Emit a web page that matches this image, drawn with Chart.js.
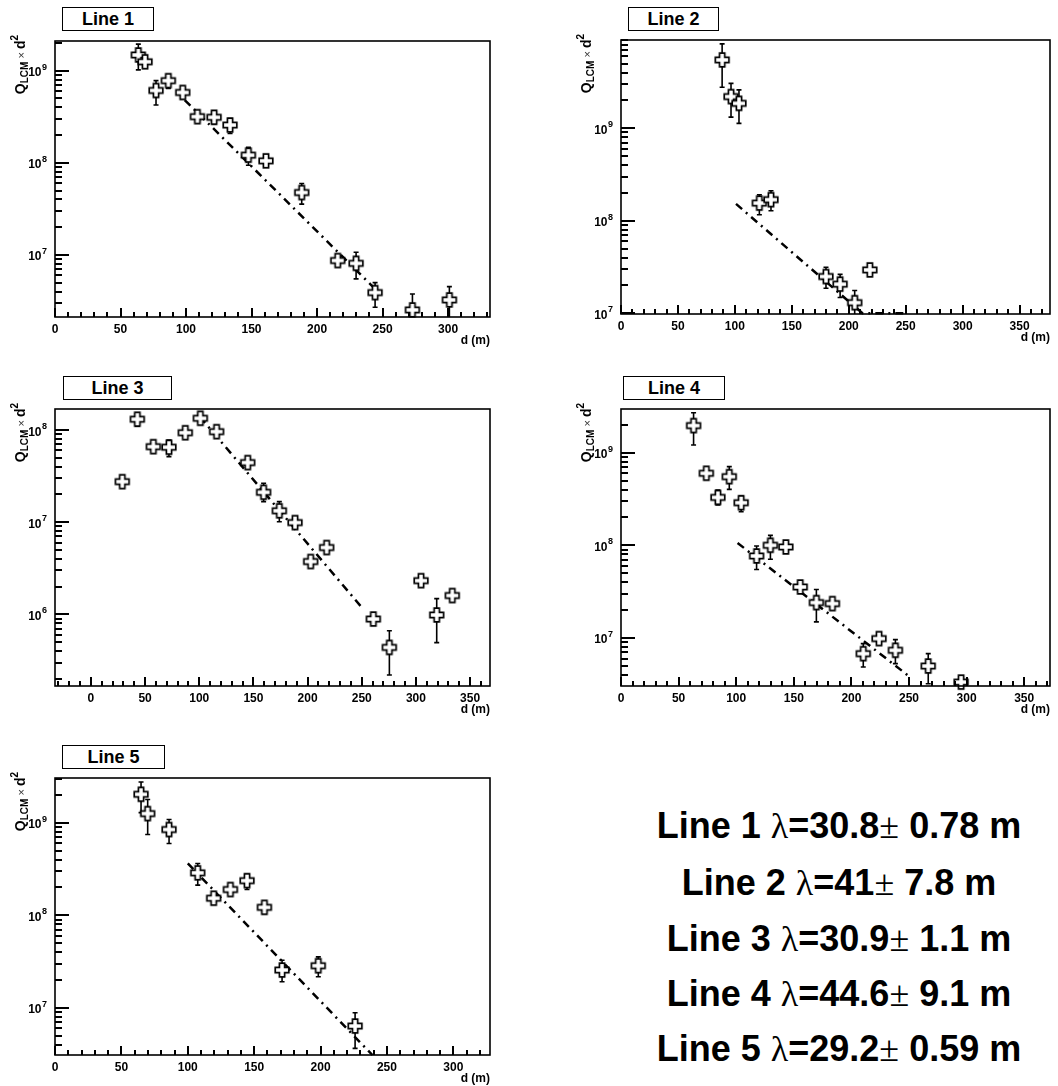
<!DOCTYPE html>
<html>
<head>
<meta charset="utf-8">
<script src="https://cdn.jsdelivr.net/npm/chart.js@4.4.1/dist/chart.umd.min.js"></script>
<style>
  body { margin: 0; background: #fff; width: 1058px; height: 1086px; position: relative; overflow: hidden;
         font-family: "Liberation Sans", Arial, Helvetica, sans-serif; }
  canvas { position: absolute; }
  .tag { position: absolute; border: 1.5px solid #000; background: #fff; box-sizing: border-box;
         font-weight: bold; font-size: 18px; line-height: 18px; padding-top: 2px; text-align: center; }
  .res { position: absolute; left: 600px; width: 478px; text-align: center; white-space: nowrap;
         font-weight: bold; font-size: 36px; line-height: 36px; }
  .res .sym { font-weight: normal; font-family: "Liberation Serif", "DejaVu Serif", serif; }
</style>
</head>
<body>
<canvas id="c1"></canvas>
<canvas id="c2"></canvas>
<canvas id="c3"></canvas>
<canvas id="c4"></canvas>
<canvas id="c5"></canvas>

<div class="tag" style="left:62px;top:7px;width:92px;height:24px">Line 1</div>
<div class="tag" style="left:628px;top:7px;width:91px;height:24px">Line 2</div>
<div class="tag" style="left:63px;top:376px;width:109px;height:24px">Line 3</div>
<div class="tag" style="left:623px;top:376px;width:102px;height:24px">Line 4</div>
<div class="tag" style="left:62px;top:745px;width:103px;height:24px">Line 5</div>

<div class="res" style="top:808px">Line 1 <span class="sym">λ</span>=30.8<span class="sym">±</span> 0.78 m</div>
<div class="res" style="top:865px">Line 2 <span class="sym">λ</span>=41<span class="sym">±</span> 7.8 m</div>
<div class="res" style="top:921px">Line 3 <span class="sym">λ</span>=30.9<span class="sym">±</span> 1.1 m</div>
<div class="res" style="top:976px">Line 4 <span class="sym">λ</span>=44.6<span class="sym">±</span> 9.1 m</div>
<div class="res" style="top:1031px">Line 5 <span class="sym">λ</span>=29.2<span class="sym">±</span> 0.59 m</div>

<script>
// ---- data: distance d (m), Q_LCM x d^2, error bar low / high ----
var d1  = [63.6, 68.7, 77.1, 86.5, 97.5, 108.7, 121.4, 133.6, 147.6, 161.0, 188.3, 215.8, 229.8, 244.3, 272.8, 301.0];
var q1  = [1.48e9, 1.25e9, 6.1e8, 7.8e8, 5.8e8, 3.17e8, 3.12e8, 2.57e8, 1.21e8, 1.05e8, 4.76e7, 8.7e6, 8.1e6, 3.9e6, 2.53e6, 3.25e6];
var lo1 = [1.02e9, 1.1e9, 4.24e8, 6.4e8, 5.0e8, 2.8e8, 2.64e8, 2.08e8, 9.4e7, 9.2e7, 3.56e7, 7.7e6, 5.5e6, 2.7e6, 1.5e6, 1.9e6];
var hi1 = [1.94e9, 1.4e9, 7.8e8, 8.97e8, 6.6e8, 3.55e8, 3.68e8, 3.02e8, 1.47e8, 1.18e8, 5.97e7, 1.0e7, 1.07e7, 5.0e6, 3.77e6, 4.53e6];
var fitD1 = [99, 250];
var fitQ1 = [4.8e8, 3.55e6];

var d2  = [88.8, 96.6, 103.6, 121.5, 131.7, 180.0, 192.4, 205.2, 218.5];
var q2  = [5.48e9, 2.2e9, 1.86e9, 1.55e8, 1.69e8, 2.49e7, 2.06e7, 1.3e7, 2.94e7];
var lo2 = [2.77e9, 1.32e9, 1.13e9, 1.16e8, 1.28e8, 1.86e7, 1.48e7, 8.0e6, 2.6e7];
var hi2 = [8.17e9, 3.06e9, 2.6e9, 1.91e8, 2.11e8, 3.14e7, 2.63e7, 1.76e7, 3.3e7];
var fitD2 = [101, 212, 250];
var fitQ2 = [1.52e8, 1.0e7, 1.0e7];

var d3  = [28.9, 42.8, 57.6, 72.0, 87.1, 101.0, 116.0, 144.7, 159.4, 173.9, 188.4, 202.8, 217.6, 260.7, 275.5, 304.7, 319.2, 333.6];
var q3  = [2.75e7, 1.31e8, 6.6e7, 6.5e7, 9.35e7, 1.34e8, 9.6e7, 4.43e7, 2.11e7, 1.33e7, 9.9e6, 3.74e6, 5.31e6, 8.9e5, 4.38e5, 2.32e6, 9.84e5, 1.6e6];
var lo3 = [2.5e7, 1.1e8, 6.0e7, 5.14e7, 8.6e7, 1.2e8, 8.6e7, 3.9e7, 1.67e7, 1.01e7, 9.0e6, 3.3e6, 4.9e6, 8.3e5, 2.2e5, 2.15e6, 4.93e5, 1.5e6];
var hi3 = [3.0e7, 1.5e8, 7.2e7, 7.78e7, 1.01e8, 1.48e8, 1.06e8, 5.0e7, 2.64e7, 1.67e7, 1.09e7, 4.2e6, 5.8e6, 9.6e5, 6.65e5, 2.5e6, 1.48e6, 1.72e6];
var fitD3 = [100.6, 250];
var fitQ3 = [1.39e8, 1.19e6];

var d4  = [63.0, 74.1, 84.1, 94.0, 104.3, 117.7, 129.7, 143.1, 155.6, 169.6, 183.5, 210.3, 224.0, 238.2, 266.7, 295.2];
var q4  = [1.96e9, 5.99e8, 3.29e8, 5.51e8, 2.88e8, 7.67e7, 1.0e8, 9.6e7, 3.55e7, 2.41e7, 2.35e7, 6.77e6, 9.84e6, 7.36e6, 4.98e6, 3.34e6];
var lo4 = [1.21e9, 5.2e8, 2.72e8, 4.02e8, 2.3e8, 5.49e7, 7.06e7, 8.6e7, 3.2e7, 1.49e7, 2.15e7, 4.86e6, 9.0e6, 5.28e6, 3.2e6, 3.0e6];
var hi4 = [2.7e9, 6.8e8, 3.94e8, 7.06e8, 3.4e8, 9.84e7, 1.28e8, 1.06e8, 3.9e7, 3.33e7, 2.6e7, 8.69e6, 1.08e7, 9.6e6, 6.78e6, 3.8e6];
var fitD4 = [101.2, 249];
var fitQ4 = [1.06e8, 3.95e6];

var d5  = [64.8, 69.8, 85.9, 107.5, 119.5, 132.1, 144.6, 157.7, 171.0, 198.3, 226.0];
var q5  = [2.04e9, 1.26e9, 8.47e8, 2.88e8, 1.53e8, 1.9e8, 2.37e8, 1.22e8, 2.56e7, 2.85e7, 6.34e6];
var lo5 = [1.29e9, 7.48e8, 5.98e8, 2.12e8, 1.38e8, 1.7e8, 1.9e8, 1.05e8, 1.91e7, 2.16e7, 3.63e6];
var hi5 = [2.77e9, 1.79e9, 1.09e9, 3.63e8, 1.7e8, 2.1e8, 2.78e8, 1.35e8, 3.27e7, 3.55e7, 8.84e6];
var fitD5 = [100, 239];
var fitQ5 = [3.64e8, 3.08e6];

// axis ranges and tick labels
var xRange1 = [0, 332],       yRange1 = [2.12e6, 2.1e9];
var xRange2 = [0, 376.7],     yRange2 = [9.8e6, 9.0e9];
var xRange3 = [-33.2, 368.4], yRange3 = [1.67e5, 1.69e8];
var xRange4 = [0, 372.4],     yRange4 = [3.03e6, 2.96e9];
var xRange5 = [0, 327.6],     yRange5 = [3.08e6, 3.06e9];
var xTicks300 = [0, 50, 100, 150, 200, 250, 300];
var xTicks350 = [0, 50, 100, 150, 200, 250, 300, 350];
var yTicks1 = [1e7, 1e8, 1e9];
var yTicks3 = [1e6, 1e7, 1e8];

// ---- page layout: canvas box and plot frame (px) ----
var boxes = [
  { id: 'c1', left: 0,   width: 500, frame: { l: 55,  t: 41,  r: 490,  b: 317 } },
  { id: 'c2', left: 560, width: 498, frame: { l: 621, t: 40,  r: 1055, b: 314 } },
  { id: 'c3', left: 0,   width: 500, frame: { l: 55,  t: 409, r: 490,  b: 686 } },
  { id: 'c4', left: 560, width: 498, frame: { l: 621, t: 409, r: 1056, b: 686 } },
  { id: 'c5', left: 0,   width: 500, frame: { l: 55,  t: 778, r: 490,  b: 1055 } }
];

var panels = [
  { d: d1, q: q1, lo: lo1, hi: hi1, fd: fitD1, fq: fitQ1, xr: xRange1, yr: yRange1, xt: xTicks300, yt: yTicks1 },
  { d: d2, q: q2, lo: lo2, hi: hi2, fd: fitD2, fq: fitQ2, xr: xRange2, yr: yRange2, xt: xTicks350, yt: yTicks1 },
  { d: d3, q: q3, lo: lo3, hi: hi3, fd: fitD3, fq: fitQ3, xr: xRange3, yr: yRange3, xt: xTicks350, yt: yTicks3 },
  { d: d4, q: q4, lo: lo4, hi: hi4, fd: fitD4, fq: fitQ4, xr: xRange4, yr: yRange4, xt: xTicks350, yt: yTicks1 },
  { d: d5, q: q5, lo: lo5, hi: hi5, fd: fitD5, fq: fitQ5, xr: xRange5, yr: yRange5, xt: xTicks300, yt: yTicks1 }
];

var FONT = '"Liberation Sans", Arial, Helvetica, sans-serif';

// open cross marker (ROOT style 28)
function crossMarker() {
  var c = document.createElement('canvas');
  c.width = 18; c.height = 18;
  var g = c.getContext('2d');
  var m = 9, s = 6.8, a = 2.6;
  g.beginPath();
  g.moveTo(m - a, m - s); g.lineTo(m + a, m - s); g.lineTo(m + a, m - a); g.lineTo(m + s, m - a);
  g.lineTo(m + s, m + a); g.lineTo(m + a, m + a); g.lineTo(m + a, m + s); g.lineTo(m - a, m + s);
  g.lineTo(m - a, m + a); g.lineTo(m - s, m + a); g.lineTo(m - s, m - a); g.lineTo(m - a, m - a);
  g.closePath();
  g.fillStyle = '#fff'; g.fill();
  g.lineWidth = 1.7; g.strokeStyle = '#000'; g.stroke();
  return c;
}
var marker = crossMarker();

// error bars, frame, inward ticks, y tick labels and axis titles for one panel
function rootStyle(p) {
  return {
    id: 'rootStyle',
    beforeDatasetsDraw: function (chart) {
      var ctx = chart.ctx, ca = chart.chartArea, xs = chart.scales.x, ys = chart.scales.y;
      ctx.save();
      ctx.beginPath(); ctx.rect(ca.left, ca.top, ca.right - ca.left, ca.bottom - ca.top); ctx.clip();
      ctx.strokeStyle = '#000'; ctx.lineWidth = 1.6;
      p.d.forEach(function (d, i) {
        var x = xs.getPixelForValue(d);
        var y1 = ys.getPixelForValue(p.lo[i]), y2 = ys.getPixelForValue(p.hi[i]);
        ctx.beginPath();
        ctx.moveTo(x, y1); ctx.lineTo(x, y2);
        ctx.moveTo(x - 2.5, y1); ctx.lineTo(x + 2.5, y1);
        ctx.moveTo(x - 2.5, y2); ctx.lineTo(x + 2.5, y2);
        ctx.stroke();
      });
      ctx.restore();
    },
    afterDraw: function (chart) {
      var ctx = chart.ctx, ca = chart.chartArea, xs = chart.scales.x, ys = chart.scales.y;
      ctx.save();
      ctx.setLineDash([]);
      ctx.strokeStyle = '#000';
      ctx.fillStyle = '#000';
      ctx.lineWidth = 1.6;
      ctx.strokeRect(ca.left, ca.top, ca.right - ca.left, ca.bottom - ca.top);

      // inward tick marks: x every 10 (major every 50), y at 1..9 x 10^n
      var bottom = Math.round(ca.bottom), left = Math.round(ca.left);
      for (var v = Math.ceil(p.xr[0] / 10) * 10; v <= p.xr[1]; v += 10) {
        var tx = Math.round(xs.getPixelForValue(v));
        var len = (Math.abs(v) % 50 === 0) ? 9 : 5;
        ctx.fillRect(tx - 1, bottom - len, 2, len);
      }
      var e0 = Math.floor(Math.log10(p.yr[0])), e1 = Math.ceil(Math.log10(p.yr[1]));
      for (var e = e0; e <= e1; e++) {
        for (var k = 1; k <= 9; k++) {
          var val = k * Math.pow(10, e);
          if (val < p.yr[0] || val > p.yr[1]) continue;
          var ty = Math.round(ys.getPixelForValue(val));
          ctx.fillRect(left, ty - 1, k === 1 ? 14 : 7, 2);
        }
      }

      // y tick labels 10^n
      ctx.textAlign = 'right';
      ctx.textBaseline = 'alphabetic';
      p.yt.forEach(function (t) {
        var y = ys.getPixelForValue(t);
        var ex = String(Math.round(Math.log10(t)));
        ctx.font = 'bold 9px ' + FONT;
        var wEx = ctx.measureText(ex).width;
        ctx.fillText(ex, ca.left - 8, y - 1);
        ctx.font = 'bold 12px ' + FONT;
        ctx.fillText('10', ca.left - 8.5 - wEx, y + 5.5);
      });

      // x title
      ctx.font = 'bold 12px ' + FONT;
      ctx.fillText('d (m)', ca.right, ca.bottom + 27);

      // y title  Q_LCM x d^2, rotated, ending near the frame top
      var parts = [
        { t: 'Q', f: 'bold 14px ', dy: 0 },
        { t: 'LCM', f: 'bold 10px ', dy: 3 },
        { t: ' \u00d7 ', f: '11px ', dy: 0 },
        { t: 'd', f: 'bold 14px ', dy: 0 },
        { t: '2', f: 'bold 10px ', dy: -7 }
      ];
      ctx.textAlign = 'left';
      var total = 0;
      parts.forEach(function (pt) { ctx.font = pt.f + FONT; pt.w = ctx.measureText(pt.t).width; total += pt.w; });
      ctx.translate(ca.left - 30, ca.top - 6);
      ctx.rotate(-Math.PI / 2);
      var u = -total;
      parts.forEach(function (pt) {
        ctx.font = pt.f + FONT;
        ctx.fillStyle = pt.t === ' \u00d7 ' ? '#333' : '#000';
        ctx.fillText(pt.t, u, pt.dy);
        u += pt.w;
      });
      ctx.restore();
    }
  };
}

function buildPanel(box, p) {
  var fr = box.frame;
  var cv = document.getElementById(box.id);
  var topPad = 10, bottomH = 34;
  var h = (fr.b - fr.t) + topPad + bottomH;
  cv.width = box.width; cv.height = h;
  cv.style.left = box.left + 'px';
  cv.style.top = (fr.t - topPad) + 'px';

  var pts = p.d.map(function (d, i) { return { x: d, y: p.q[i] }; });
  var fit = p.fd.map(function (d, i) { return { x: d, y: p.fq[i] }; });
  var tickFont = { family: FONT, size: 12, weight: 'bold' };

  new Chart(cv.getContext('2d'), {
    type: 'scatter',
    data: {
      datasets: [
        { data: pts, pointStyle: marker, pointRadius: 7, pointHoverRadius: 7, clip: false, showLine: false },
        { data: fit, showLine: true, pointRadius: 0, borderColor: '#000', borderWidth: 2.5,
          borderDash: [8, 5, 2, 5], fill: false, clip: 1 }
      ]
    },
    options: {
      responsive: false,
      animation: false,
      devicePixelRatio: 1,
      layout: { padding: { left: 0, top: topPad, right: box.left + box.width - fr.r, bottom: 0 } },
      plugins: { legend: { display: false }, tooltip: { enabled: false } },
      scales: {
        x: {
          type: 'linear', min: p.xr[0], max: p.xr[1],
          afterBuildTicks: function (s) { s.ticks = p.xt.map(function (v) { return { value: v }; }); },
          afterFit: function (s) { s.height = bottomH; },
          grid: { display: false, drawTicks: false }, border: { display: false },
          ticks: { padding: 5, autoSkip: false, maxRotation: 0, color: '#000', font: tickFont,
                   callback: function (v) { return String(v); } }
        },
        y: {
          type: 'logarithmic', min: p.yr[0], max: p.yr[1],
          afterBuildTicks: function (s) { s.ticks = p.yt.map(function (v) { return { value: v }; }); },
          afterFit: function (s) { s.width = fr.l - box.left; },
          grid: { display: false, drawTicks: false }, border: { display: false },
          ticks: { display: false }
        }
      }
    },
    plugins: [rootStyle(p)]
  });
}

boxes.forEach(function (b, i) { buildPanel(b, panels[i]); });
</script>
</body>
</html>
